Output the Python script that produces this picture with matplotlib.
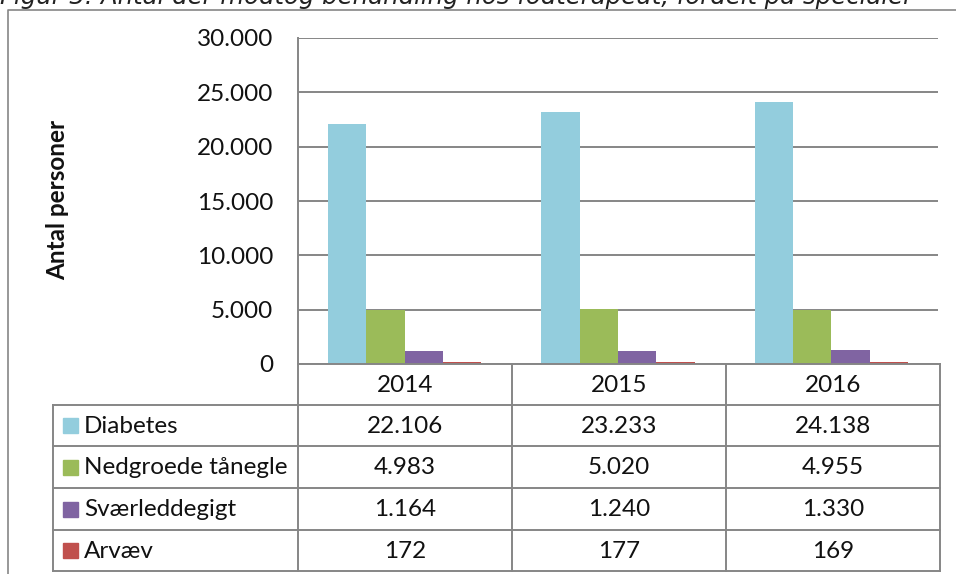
import numpy as np
from matplotlib import pyplot as plt
from matplotlib.ticker import FuncFormatter

years = ["2014", "2015", "2016"]
series = ["Diabetes", "Nedgroede tånegle", "Sværleddegigt", "Arvæv"]
diabetes = [22106, 23233, 24138]
negle = [4983, 5020, 4955]
gigt = [1164, 1240, 1330]
arvaev = [172, 177, 169]
colors = ["#93CDDD", "#9BBB59", "#8064A2", "#C0504D"]

title = "Figur 3: Antal der modtog behandling hos fodterapeut, fordelt på specialer"

W, H = 956, 574
FONT = "Lato"
GRID = "#868686"
FS = 17.5


def dk(v):
    # danish thousands separator
    return "{:,}".format(int(v)).replace(",", ".")


fig = plt.figure(figsize=(W / 100, H / 100), dpi=100)

# plot area in pixel coords
px_l, px_r, px_t, px_b = 298, 938, 38, 364
ax = fig.add_axes([px_l / W, (H - px_b) / H, (px_r - px_l) / W, (px_b - px_t) / H])

values = [diabetes, negle, gigt, arvaev]
x = np.arange(len(years))
bw = 0.18
for i, (vals, c) in enumerate(zip(values, colors)):
    ax.bar(x + (i - 1.5) * bw, vals, width=bw, color=c, zorder=3)

ax.set_xlim(-0.5, len(years) - 0.5)
ax.set_ylim(0, 30000)
ax.set_yticks(np.arange(0, 30001, 5000))
ax.yaxis.set_major_formatter(FuncFormatter(lambda v, p: dk(v)))
ax.set_xticks([])
ax.tick_params(axis="y", length=0, pad=18, labelsize=FS, labelcolor="#111111")
for lab in ax.get_yticklabels():
    lab.set_fontfamily(FONT)
ax.yaxis.grid(True, color=GRID, linewidth=1.4, zorder=0)
for s in ["top", "right", "bottom"]:
    ax.spines[s].set_visible(False)
ax.spines["left"].set_color(GRID)
ax.spines["left"].set_linewidth(1.4)

# overlay for frame, title and data table
ov = fig.add_axes([0, 0, 1, 1])
ov.set_xlim(0, W)
ov.set_ylim(H, 0)
ov.axis("off")

# title is cut off by the top edge, as in the source
ov.text(0, 4, title, fontsize=17.6, style="italic", family="DejaVu Sans",
        va="baseline", ha="left", color="#222222", clip_on=False)

# outer chart frame (runs off right/bottom edge)
ov.plot([8, 8, 1000], [600, 10, 10], color=GRID, lw=1.2)

ov.text(58, 200, "Antal personer", rotation=90, fontsize=17.5, fontweight="bold",
        family=FONT, ha="center", va="center", color="#111111")

# table
col_x = [298, 512, 726, 940]
row_y = [364, 405, 446, 488, 530, 571]
tab_l = 53
lw = 1.4
ov.plot([col_x[0], col_x[-1]], [row_y[0], row_y[0]], color=GRID, lw=lw)
for yy in row_y[1:]:
    ov.plot([tab_l, col_x[-1]], [yy, yy], color=GRID, lw=lw)
for xx in col_x:
    ov.plot([xx, xx], [row_y[0], row_y[-1]], color=GRID, lw=lw)
ov.plot([tab_l, tab_l], [row_y[1], row_y[-1]], color=GRID, lw=lw)

for j, yr in enumerate(years):
    ov.text((col_x[j] + col_x[j + 1]) / 2, (row_y[0] + row_y[1]) / 2 + 1, yr,
            fontsize=FS, family=FONT, ha="center", va="center", color="#111111")

for i, (name, vals, c) in enumerate(zip(series, values, colors)):
    yc = (row_y[i + 1] + row_y[i + 2]) / 2
    ov.add_patch(plt.Rectangle((63, yc - 7.5), 15, 15, color=c))
    ov.text(84, yc + 1, name, fontsize=FS, family=FONT, ha="left", va="center",
            color="#111111")
    for j, v in enumerate(vals):
        ov.text((col_x[j] + col_x[j + 1]) / 2, yc + 1, dk(v), fontsize=FS,
                family=FONT, ha="center", va="center", color="#111111")

fig.savefig("out.png", dpi=100)
